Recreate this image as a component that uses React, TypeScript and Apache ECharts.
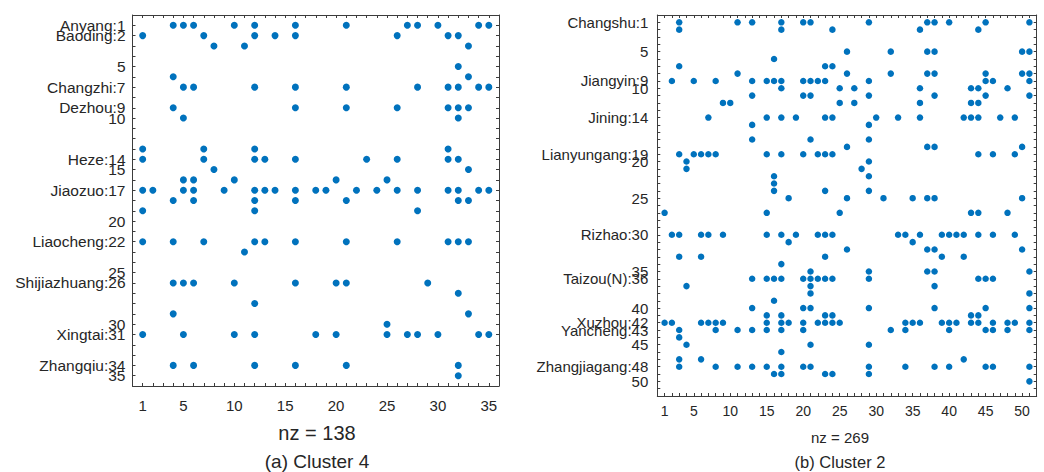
import React, { useEffect, useRef } from "react";
import * as echarts from "echarts";

// ---- Data: non-zero entries, [row, [columns]] ----
const cluster4Entries: [number, number[]][] = [
  [1, [4, 5, 6, 10, 12, 16, 21, 27, 28, 30, 34, 35]],
  [2, [1, 7, 12, 14, 16, 26, 31, 32]],
  [3, [8, 11, 33]],
  [5, [32]],
  [6, [4, 33]],
  [7, [5, 6, 12, 16, 21, 28, 31, 32, 34, 35]],
  [9, [4, 16, 21, 26, 31, 32, 33]],
  [10, [5, 32]],
  [13, [1, 7, 12, 31]],
  [14, [1, 7, 12, 13, 16, 23, 26, 31, 32]],
  [15, [8, 33]],
  [16, [5, 6, 10, 20, 25]],
  [17, [1, 2, 5, 6, 9, 12, 13, 14, 16, 18, 19, 22, 24, 26, 28, 31, 32, 34, 35]],
  [18, [4, 6, 12, 16, 21, 32, 33]],
  [19, [1, 12, 28]],
  [22, [1, 4, 7, 12, 13, 16, 21, 26, 31, 32, 33]],
  [23, [11]],
  [26, [4, 5, 6, 10, 16, 20, 21, 29]],
  [27, [32]],
  [28, [12]],
  [29, [4, 33]],
  [30, [25]],
  [31, [1, 5, 10, 12, 18, 20, 25, 27, 28, 30, 34, 35]],
  [34, [4, 6, 12, 16, 21, 32]],
  [35, [32]],
];

const cluster2Entries: [number, number[]][] = [
  [1, [3, 11, 13, 17, 20, 21, 29, 37, 38, 40, 45, 51]],
  [2, [3, 17, 24, 36, 44]],
  [5, [26, 32, 37, 38, 50, 51]],
  [6, [16]],
  [7, [3, 23, 24]],
  [8, [11, 26, 32, 37, 38, 45, 50, 51]],
  [9, [2, 5, 8, 13, 15, 16, 17, 20, 21, 22, 23, 29, 45, 46, 51]],
  [10, [17, 25, 27, 36, 43, 44, 48]],
  [11, [13, 20, 21, 29, 38, 45, 51]],
  [12, [9, 10, 25, 27, 36, 43, 44]],
  [14, [7, 15, 17, 19, 23, 24, 30, 33, 36, 42, 43, 44, 47, 49]],
  [15, [13, 29]],
  [17, [13, 21, 29]],
  [18, [26, 37, 38, 50]],
  [19, [3, 5, 6, 7, 8, 15, 17, 20, 22, 23, 24, 44, 46, 49]],
  [20, [4, 29]],
  [21, [4, 28]],
  [22, [16, 29]],
  [23, [16]],
  [24, [16, 23, 29]],
  [25, [18, 26, 31, 35, 37, 38, 50]],
  [27, [1, 15, 25, 43, 44, 48]],
  [30, [2, 3, 6, 7, 9, 15, 17, 19, 22, 23, 24, 33, 34, 36, 39, 40, 41, 42, 44, 46, 49]],
  [31, [18, 35]],
  [32, [26, 37, 38, 50]],
  [33, [3, 6, 23, 39, 42]],
  [34, [17]],
  [35, [21, 29, 37, 38, 51]],
  [36, [13, 15, 16, 17, 20, 21, 22, 23, 24, 29, 44, 45, 46]],
  [37, [4, 21, 38]],
  [38, [21, 51]],
  [39, [16]],
  [40, [13, 20, 21, 29, 38, 45, 51]],
  [41, [15, 17, 23, 24, 43, 44]],
  [42, [1, 2, 6, 7, 8, 9, 15, 17, 18, 20, 22, 23, 24, 25, 34, 35, 36, 39, 40, 41, 43, 44, 46, 48, 49, 51]],
  [43, [3, 8, 11, 13, 15, 17, 20, 32, 34, 40, 45, 46, 48, 51]],
  [44, [3]],
  [45, [4, 21, 29]],
  [46, [17]],
  [47, [3, 6, 42]],
  [48, [3, 8, 11, 13, 15, 17, 20, 21, 29, 34, 38, 40, 45, 46, 51]],
  [49, [16, 17, 23, 24, 29]],
  [50, [51]],
];

// ---- Tick labels ----
const cluster4XTicks = [1, 5, 10, 15, 20, 25, 30, 35];
const cluster4YTicks: [number, string][] = [
  [1, "Anyang:1"],
  [2, "Baoding:2"],
  [5, "5"],
  [7, "Changzhi:7"],
  [9, "Dezhou:9"],
  [10, "10"],
  [14, "Heze:14"],
  [15, "15"],
  [17, "Jiaozuo:17"],
  [20, "20"],
  [22, "Liaocheng:22"],
  [25, "25"],
  [26, "Shijiazhuang:26"],
  [30, "30"],
  [31, "Xingtai:31"],
  [34, "Zhangqiu:34"],
  [35, "35"],
];
const cluster2XTicks = [1, 5, 10, 15, 20, 25, 30, 35, 40, 45, 50];
const cluster2YTicks: [number, string][] = [
  [1, "Changshu:1"],
  [5, "5"],
  [9, "Jiangyin:9"],
  [10, "10"],
  [14, "Jining:14"],
  [19, "Lianyungang:19"],
  [20, "20"],
  [25, "25"],
  [30, "Rizhao:30"],
  [35, "35"],
  [36, "Taizou(N):36"],
  [40, "40"],
  [42, "Xuzhou:42"],
  [43, "Yancheng:43"],
  [45, "45"],
  [48, "Zhangjiagang:48"],
  [50, "50"],
];

const cluster4Size = 35;
const cluster2Size = 51;
const cluster4Nz = 138;
const cluster2Nz = 269;

const FONT = "'Liberation Sans', Arial, Helvetica, sans-serif";
const TEXT = "#262626";
const LINE = "#3c3c3c";
const DOT = "#0072BD";

function toPoints(entries: [number, number[]][]) {
  const pts: [number, number][] = [];
  entries.forEach(([r, cols]) => cols.forEach((c) => pts.push([c, r])));
  return pts;
}

function axesFor(
  gridIndex: number,
  n: number,
  xTicks: number[],
  yTicks: [number, string][],
  xfs: number,
  yfs: number,
  xMargin: number,
  yMargin: number
) {
  const yMap = new Map(yTicks);
  const common = {
    type: "value" as const,
    gridIndex,
    min: 0,
    max: n + 1,
    interval: 1,
    splitLine: { show: false },
    axisLine: { show: true, onZero: false, lineStyle: { color: LINE, width: 1 } },
    axisTick: { show: true, inside: true, length: 3, lineStyle: { color: LINE, width: 1 } },
  };
  const xs = [
    {
      ...common,
      position: "bottom",
      axisLabel: {
        show: true,
        margin: xMargin,
        fontSize: xfs,
        fontFamily: FONT,
        color: TEXT,
        formatter: (v: number) => (xTicks.includes(v) ? String(v) : ""),
      },
    },
    { ...common, position: "top", axisLabel: { show: false } },
  ];
  const ys = [
    {
      ...common,
      inverse: true,
      position: "left",
      axisLabel: {
        show: true,
        margin: yMargin,
        fontSize: yfs,
        fontFamily: FONT,
        color: TEXT,
        formatter: (v: number) => yMap.get(v) ?? "",
      },
    },
    { ...common, inverse: true, position: "right", axisLabel: { show: false } },
  ];
  return { xs, ys };
}

export default function App() {
  const ref = useRef<HTMLDivElement>(null);
  useEffect(() => {
    if (!ref.current) return;
    const chart = echarts.init(ref.current, null, { renderer: "svg" });
    const a = axesFor(0, cluster4Size, cluster4XTicks, cluster4YTicks, 15, 15.5, 12, 7);
    const b = axesFor(1, cluster2Size, cluster2XTicks, cluster2YTicks, 14, 15, 8, 9);
    const title = (text: string, x: number, y: number, fontSize: number) => ({
      type: "text",
      style: {
        text,
        x,
        y,
        align: "center",
        verticalAlign: "middle",
        fontSize,
        fontFamily: FONT,
        fill: TEXT,
      },
    });
    chart.setOption({
      animation: false,
      backgroundColor: "#ffffff",
      grid: [
        { left: 132.5, top: 15, width: 366.5, height: 371 },
        { left: 657.3, top: 15, width: 379.4, height: 381 },
      ],
      xAxis: [...a.xs, ...b.xs.map((x) => ({ ...x, gridIndex: 1 }))],
      yAxis: [...a.ys, ...b.ys.map((y) => ({ ...y, gridIndex: 1 }))],
      series: [
        {
          type: "scatter",
          xAxisIndex: 0,
          yAxisIndex: 0,
          symbolSize: 7,
          itemStyle: { color: DOT, opacity: 1 },
          data: toPoints(cluster4Entries),
        },
        {
          type: "scatter",
          xAxisIndex: 2,
          yAxisIndex: 2,
          symbolSize: 6.5,
          itemStyle: { color: DOT, opacity: 1 },
          data: toPoints(cluster2Entries),
        },
      ],
      graphic: [
        title(`nz = ${cluster4Nz}`, 317, 433, 20),
        title("(a) Cluster 4", 317, 461, 19),
        title(`nz = ${cluster2Nz}`, 840, 437, 15),
        title("(b) Cluster 2", 840, 462, 16.5),
      ],
    });
    return () => chart.dispose();
  }, []);
  return (
    <div
      ref={ref}
      style={{ position: "fixed", left: 0, top: 0, width: 1044, height: 472, background: "#fff" }}
    />
  );
}
